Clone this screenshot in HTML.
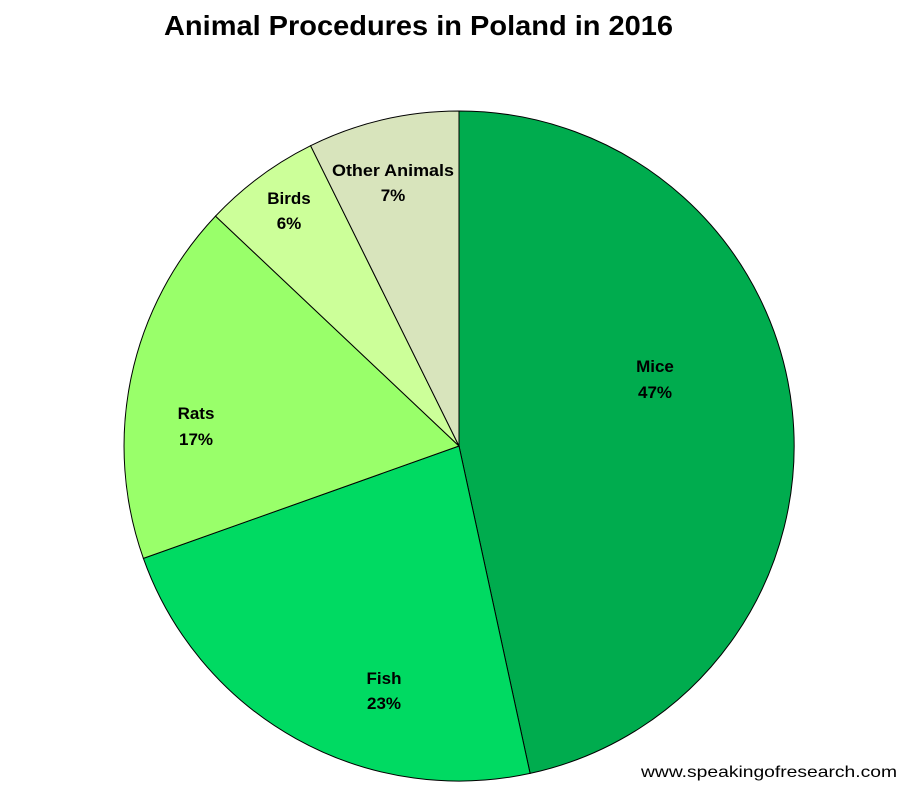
<!DOCTYPE html>
<html><head><meta charset="utf-8"><style>body{margin:0;background:#fff}svg{display:block}</style></head>
<body>
<svg width="906" height="786" viewBox="0 0 906 786" xmlns="http://www.w3.org/2000/svg" font-family="Liberation Sans, sans-serif">
<rect width="906" height="786" fill="#fff"/>
<text x="164" y="35" font-size="28" font-weight="bold" textLength="509" lengthAdjust="spacingAndGlyphs">Animal Procedures in Poland in 2016</text>
<g stroke="#000" stroke-width="1">
<path d="M459,446 L459,111 A335,335 0 0 1 530.1,773.4 Z" fill="#00AC4E"/>
<path d="M459,446 L530.1,773.4 A335,335 0 0 1 143.4,558.4 Z" fill="#00DA62"/>
<path d="M459,446 L143.4,558.4 A335,335 0 0 1 215.5,216.1 Z" fill="#99FF6A"/>
<path d="M459,446 L215.5,216.1 A335,335 0 0 1 310.6,145.7 Z" fill="#CCFF99"/>
<path d="M459,446 L310.6,145.7 A335,335 0 0 1 459,111 Z" fill="#D8E4BC"/>
</g>
<g font-size="17" font-weight="bold" text-anchor="middle" fill="#000">
<text x="655" y="372">Mice</text><text x="655" y="398">47%</text>
<text x="384" y="684">Fish</text><text x="384" y="709">23%</text>
<text x="196" y="419">Rats</text><text x="196" y="445">17%</text>
<text x="289" y="204">Birds</text><text x="289" y="229">6%</text>
<text x="393" y="176" textLength="122" lengthAdjust="spacingAndGlyphs">Other Animals</text><text x="393" y="201">7%</text>
</g>
<text x="897" y="777" font-size="16" text-anchor="end" textLength="256" lengthAdjust="spacingAndGlyphs">www.speakingofresearch.com</text>
</svg>
</body></html>
